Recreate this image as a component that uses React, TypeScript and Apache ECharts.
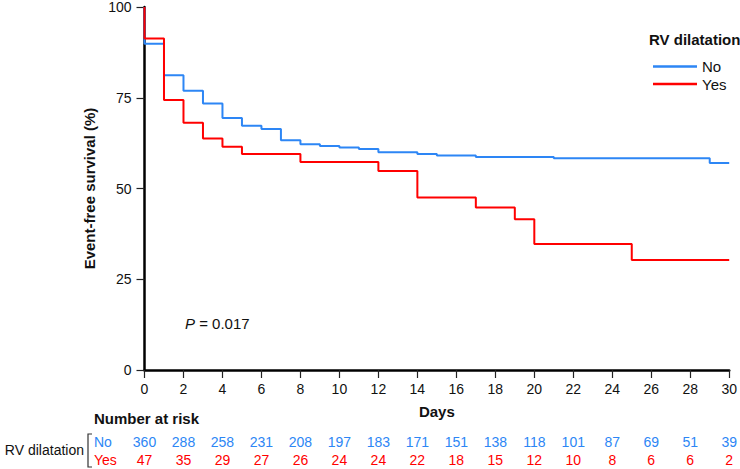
import React, { useEffect, useRef } from "react";
import * as echarts from "echarts";

const FONT = 'Arial, "Liberation Sans", Helvetica, sans-serif';
const BLUE = "#2d86f5";
const RED = "#ff0000";

const groupNames = ["No", "Yes"];
const dayTicks = [0, 2, 4, 6, 8, 10, 12, 14, 16, 18, 20, 22, 24, 26, 28, 30];
const survivalNo: [number, number][] = [
  [0, 100], [0, 89.9], [1, 81.2], [2, 76.9], [3, 73.4], [4, 69.4], [5, 67.3],
  [6, 66.4], [7, 63.3], [8, 62.2], [9, 61.7], [10, 61.3], [11, 60.9], [12, 60.0],
  [14, 59.5], [15, 59.1], [17, 58.7], [21, 58.3], [29, 57.0], [30, 57.0],
];
const survivalYes: [number, number][] = [
  [0, 100], [0, 91.3], [1, 74.4], [2, 68.1], [3, 63.8], [4, 61.5], [5, 59.5],
  [8, 57.3], [12, 54.8], [14, 47.5], [17, 44.8], [19, 41.5], [20, 34.7],
  [25, 30.3], [30, 30.3],
];
const riskNo = [360, 288, 258, 231, 208, 197, 183, 171, 151, 138, 118, 101, 87, 69, 51, 39];
const riskYes = [47, 35, 29, 27, 26, 24, 24, 22, 18, 15, 12, 10, 8, 6, 6, 2];

export default function App() {
  const ref = useRef<HTMLDivElement>(null);
  useEffect(() => {
    if (!ref.current) return;
    const chart = echarts.init(ref.current, null, { renderer: "svg" });
    chart.setOption({
      animation: false,
      textStyle: { fontFamily: FONT },
      grid: { left: 144.5, right: 8.5, top: 6.7, bottom: 99, containLabel: false },
      legend: {
        orient: "vertical",
        left: 648,
        top: 54,
        icon: "rect",
        itemWidth: 44,
        itemHeight: 2.5,
        itemGap: 2.6,
        textStyle: { fontSize: 15, lineHeight: 15, color: "#111", fontFamily: FONT },
        data: groupNames,
      },
      xAxis: {
        type: "value",
        min: 0,
        max: 30,
        interval: 2,
        name: "Days",
        nameLocation: "middle",
        nameGap: 34,
        nameTextStyle: { fontSize: 15, fontWeight: "bold", color: "#111", fontFamily: FONT },
        axisLine: { lineStyle: { color: "#000", width: 2.5 } },
        axisTick: { show: true, length: 8, lineStyle: { color: "#222", width: 1.2 } },
        axisLabel: { fontSize: 14, color: "#111", margin: 12, fontFamily: FONT },
        splitLine: { show: false },
      },
      yAxis: {
        type: "value",
        min: 0,
        max: 100,
        interval: 25,
        name: "Event-free survival (%)",
        nameLocation: "middle",
        nameGap: 46,
        nameTextStyle: { fontSize: 15, fontWeight: "bold", color: "#111", fontFamily: FONT },
        axisLine: { show: true, lineStyle: { color: "#000", width: 2.5 } },
        axisTick: { show: true, length: 8, lineStyle: { color: "#222", width: 1.2 } },
        axisLabel: { fontSize: 14, color: "#111", margin: 13, fontFamily: FONT },
        splitLine: { show: false },
      },
      series: [
        {
          name: groupNames[0],
          type: "line",
          step: "end",
          data: survivalNo,
          symbol: "none",
          lineStyle: { color: BLUE, width: 2 },
          itemStyle: { color: BLUE },
          z: 3,
        },
        {
          name: groupNames[1],
          type: "line",
          step: "end",
          data: survivalYes,
          symbol: "none",
          lineStyle: { color: RED, width: 2 },
          itemStyle: { color: RED },
          z: 4,
        },
      ],
    });

    const graphics: any[] = [];
    graphics.push({
      type: "text",
      left: 649,
      top: 32,
      style: { text: "RV dilatation", font: `bold 15px ${FONT}`, fill: "#111" },
    });
    graphics.push({
      type: "text",
      left: 185,
      top: 316,
      style: {
        text: "{i|P} = 0.017",
        rich: { i: { fontStyle: "italic", fontSize: 15, fontFamily: FONT, fill: "#111" } },
        font: `15px ${FONT}`,
        fill: "#111",
      },
    });
    graphics.push({
      type: "text",
      left: 94,
      top: 411,
      style: { text: "Number at risk", font: `bold 15px ${FONT}`, fill: "#111" },
    });
    graphics.push({
      type: "text",
      x: 84,
      y: 450,
      style: { text: "RV dilatation", font: `14px ${FONT}`, fill: "#111", align: "right", verticalAlign: "middle" },
    });
    graphics.push({
      type: "polyline",
      shape: { points: [[92, 434], [88, 434], [88, 467], [92, 467]] },
      style: { stroke: "#333", lineWidth: 1.2, fill: null },
    });
    graphics.push({
      type: "text",
      x: 94,
      y: 441.5,
      style: { text: groupNames[0], font: `14px ${FONT}`, fill: BLUE, verticalAlign: "middle" },
    });
    graphics.push({
      type: "text",
      x: 94,
      y: 459.5,
      style: { text: groupNames[1], font: `14px ${FONT}`, fill: RED, verticalAlign: "middle" },
    });
    dayTicks.forEach((d, i) => {
      const px = chart.convertToPixel({ xAxisIndex: 0 }, d) as number;
      graphics.push({
        type: "text",
        x: px,
        y: 441.5,
        style: { text: String(riskNo[i]), font: `14px ${FONT}`, fill: BLUE, align: "center", verticalAlign: "middle" },
      });
      graphics.push({
        type: "text",
        x: px,
        y: 459.5,
        style: { text: String(riskYes[i]), font: `14px ${FONT}`, fill: RED, align: "center", verticalAlign: "middle" },
      });
    });
    chart.setOption({ graphic: graphics });

    return () => chart.dispose();
  }, []);
  return <div ref={ref} style={{ width: 740, height: 469, position: "absolute", left: 0, top: 0 }} />;
}
